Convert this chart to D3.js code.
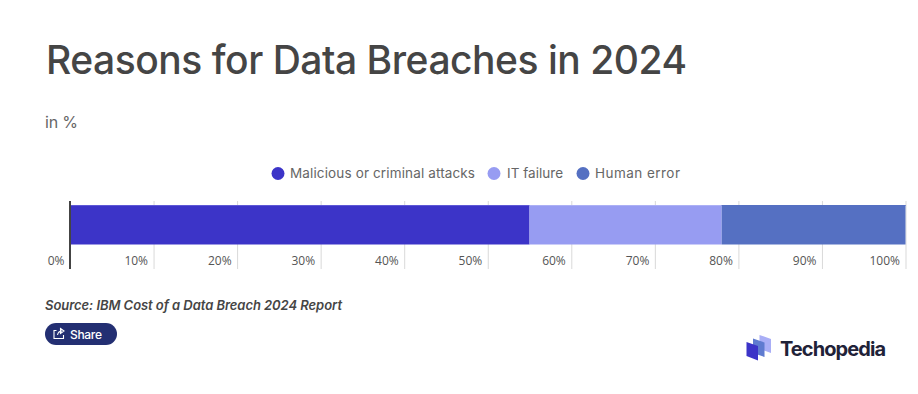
<!DOCTYPE html>
<html>
<head>
<meta charset="utf-8">
<script src="https://cdn.jsdelivr.net/npm/d3@7"></script>
<style>
  html, body { margin: 0; padding: 0; background: #fff; }
  svg { display: block; }
  text { font-family: Inter, "Noto Sans", sans-serif; }
  .title { font-size: 39px; font-weight: 500; fill: #454545; }
  .subtitle { font-size: 16px; fill: #666; }
  .legend-label { font-size: 13.5px; fill: #666; }
  .tick-label { font-family: "Open Sans", sans-serif; font-size: 12px; fill: #555; }
  .source { font-size: 13px; font-weight: 600; font-style: italic; fill: #454545; }
  .share { font-size: 12px; font-weight: 500; fill: #fff; }
  .brand { font-size: 20px; font-weight: 700; fill: #1f2238; }
</style>
</head>
<body>
<div id="chart"></div>
<script>
const categories = ['Malicious or criminal attacks', 'IT failure', 'Human error'];
const values = [55, 23, 22];
const colors = ['#3c34c8', '#979cf2', '#5570c2'];
const edgeColors = ['#5e58d6', '#acb0f5', '#5570c2'];
const tickValues = [0, 10, 20, 30, 40, 50, 60, 70, 80, 90, 100];

const width = 918, height = 394;

const svg = d3.select('#chart')
  .append('svg')
  .attr('width', width)
  .attr('height', height);

// ============== Header ==============
svg.append('text')
  .attr('class', 'title')
  .attr('x', 46)
  .attr('y', 74)
  .attr('textLength', 641)
  .text('Reasons for Data Breaches in 2024');

svg.append('text')
  .attr('class', 'subtitle')
  .attr('x', 45)
  .attr('y', 128)
  .attr('textLength', 33)
  .text('in %');

// ============== Scales ==============
const x = d3.scaleLinear().domain([0, 100]).range([70, 905.5]);
const y = d3.scaleBand().domain(['Reasons']).range([205, 244.5]);

// ============== Stacked bar ==============
const row = {};
categories.forEach((c, i) => { row[c] = values[i]; });
const stacked = d3.stack().keys(categories)([row]);

// ============== Grid and tick labels ==============
const axis = svg.append('g')
  .attr('transform', 'translate(0,269)')
  .call(d3.axisBottom(x).tickValues(tickValues).tickSize(-68).tickFormat(d => d + '%'));

axis.select('.domain').remove();
axis.selectAll('.tick line')
  .attr('stroke', '#d9d9d9')
  .attr('stroke-width', 1);
axis.selectAll('.tick text')
  .attr('class', 'tick-label')
  .attr('text-anchor', 'end')
  .attr('x', -6)
  .attr('y', -4.5)
  .attr('dy', 0);

svg.selectAll('.segment')
  .data(stacked)
  .enter()
  .append('rect')
  .attr('class', 'segment')
  .attr('x', d => x(d[0][0]))
  .attr('y', y('Reasons'))
  .attr('width', d => x(d[0][1]) - x(d[0][0]))
  .attr('height', y.bandwidth())
  .attr('fill', (d, i) => colors[i]);

// lighter top edge of each segment
svg.selectAll('.segment-edge')
  .data(stacked)
  .enter()
  .append('rect')
  .attr('class', 'segment-edge')
  .attr('x', d => x(d[0][0]))
  .attr('y', y('Reasons'))
  .attr('width', d => x(d[0][1]) - x(d[0][0]))
  .attr('height', 1)
  .attr('fill', (d, i) => edgeColors[i]);

// zero line
svg.append('line')
  .attr('x1', x(0))
  .attr('x2', x(0))
  .attr('y1', 201)
  .attr('y2', 269)
  .attr('stroke', '#444')
  .attr('stroke-width', 2);

// ============== Legend ==============
const legendX = [278, 494, 583];
const legendWidths = [185, 56, 85];
const legend = svg.selectAll('.legend-item')
  .data(categories)
  .enter()
  .append('g')
  .attr('class', 'legend-item')
  .attr('transform', (d, i) => `translate(${legendX[i]},173.5)`);

legend.append('circle')
  .attr('r', 6.5)
  .attr('fill', (d, i) => colors[i]);

legend.append('text')
  .attr('class', 'legend-label')
  .attr('x', (d, i) => i === 1 ? 13 : 12)
  .attr('y', 4.5)
  .attr('textLength', (d, i) => legendWidths[i])
  .text(d => d);

// ============== Source ==============
svg.append('text')
  .attr('class', 'source')
  .attr('x', 45)
  .attr('y', 310)
  .attr('textLength', 297)
  .text('Source: IBM Cost of a Data Breach 2024 Report');

// ============== Share button ==============
const share = svg.append('g').attr('transform', 'translate(45,323)');
share.append('rect')
  .attr('width', 72)
  .attr('height', 22)
  .attr('rx', 11)
  .attr('fill', '#232f72');
share.append('path')
  .attr('d', 'M11.5 7.5 H9 V15.5 H18.5 V12 M12.5 12 C13 9.5 15 8 17 8 M15.5 5.5 L19 8 L15.5 10.5 Z')
  .attr('fill', 'none')
  .attr('stroke', '#fff')
  .attr('stroke-width', 1.1);
share.append('text')
  .attr('class', 'share')
  .attr('x', 25)
  .attr('y', 15.5)
  .attr('textLength', 32)
  .text('Share');

// ============== Logo ==============
const logo = svg.append('g').attr('transform', 'translate(746.5,335)');
const logoShapes = [
  { d: 'M13 0 L24.5 4 V18 L13 14 Z', fill: '#a9aef6' },
  { d: 'M6.5 3.5 L18 7.5 V22 L6.5 18 Z', fill: '#5f7bd0' },
  { d: 'M0 7 L11.5 11 V25.5 L0 21 Z', fill: '#3c34c8' }
];
logo.selectAll('path')
  .data(logoShapes)
  .enter()
  .append('path')
  .attr('d', d => d.d)
  .attr('fill', d => d.fill);

svg.append('text')
  .attr('class', 'brand')
  .attr('x', 780)
  .attr('y', 356)
  .attr('textLength', 106)
  .text('Techopedia');
</script>
</body>
</html>
